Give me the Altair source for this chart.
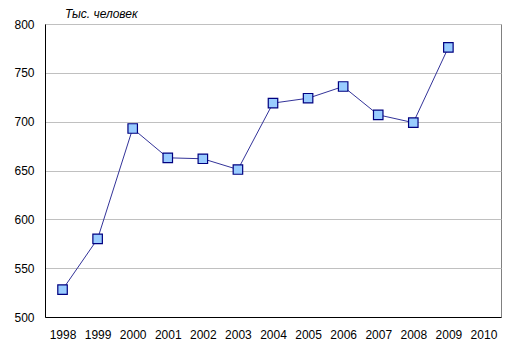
import altair as alt
import pandas as pd

years = ["1998", "1999", "2000", "2001", "2002", "2003", "2004", "2005", "2006", "2007", "2008", "2009"]
values = [528, 580, 693, 663, 662, 651, 719, 724, 736, 707, 699, 776]
x_domain = years + ["2010"]
unit_label = "Тыс. человек"

df = pd.DataFrame({"year": years, "value": values})

base = alt.Chart(df).encode(
    x=alt.X("year:O", scale=alt.Scale(domain=x_domain, paddingInner=0, paddingOuter=0),
            axis=alt.Axis(title=None, labelAngle=0, ticks=False, domainColor="black",
                          labelFont="Liberation Sans", labelFontSize=12, labelColor="black",
                          labelPadding=12)),
    y=alt.Y("value:Q", scale=alt.Scale(domain=[500, 800], nice=False, zero=False),
            axis=alt.Axis(title=None, values=[500, 550, 600, 650, 700, 750, 800], ticks=False,
                          domainColor="black", grid=True, gridColor="#c0c0c0",
                          labelFont="Liberation Sans", labelFontSize=12, labelColor="black",
                          labelPadding=11)),
)

line = base.mark_line(color="#333399", strokeWidth=1)
pts = base.mark_point(shape="square", filled=True, size=90, fill="#99ccff",
                      stroke="#000080", strokeWidth=1.2, opacity=1)

title = alt.Chart(pd.DataFrame({"t": [unit_label]})).mark_text(
    align="left", baseline="alphabetic", font="Liberation Sans", fontSize=12,
    fontStyle="italic", color="black"
).encode(text="t:N", x=alt.value(20), y=alt.value(-6))

chart = (line + pts + title).properties(
    width=456, height=293,
    autosize=alt.AutoSizeParams(type="none"),
    padding={"left": 37, "top": 16, "right": 6, "bottom": 30},
).configure_view(stroke="#808080", strokeWidth=1).configure_axis(domainWidth=1)

chart.save("out.html", embed_options={"renderer": "svg", "actions": False})
